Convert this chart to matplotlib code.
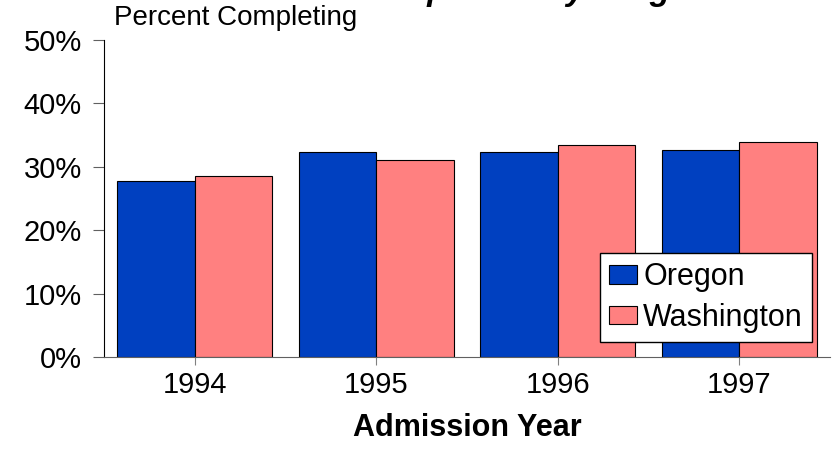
import numpy as np
import matplotlib.pyplot as plt

plt.rcParams['font.family'] = ['Liberation Sans', 'DejaVu Sans']

years = ['1994', '1995', '1996', '1997']
oregon = [27.8, 32.4, 32.3, 32.6]
washington = [28.5, 31.0, 33.4, 33.9]

fig = plt.figure(figsize=(8.33, 4.61), dpi=100)
ax = fig.add_axes([104 / 833, 1 - 357 / 461, (830 - 104) / 833, (357 - 40) / 461])

x = np.arange(len(years))
w = 0.427
ax.bar(x - w / 2, oregon, w, color='#0040C0', edgecolor='black', linewidth=0.8, label='Oregon')
ax.bar(x + w / 2, washington, w, color='#FF8080', edgecolor='black', linewidth=0.8, label='Washington')

ax.set_xlim(-0.5, 3.5)
ax.set_ylim(0, 50)
ax.set_yticks(range(0, 51, 10))
ax.set_yticklabels([f'{v}%' for v in range(0, 51, 10)], fontsize=21)
ax.set_xticks(x)
ax.set_xticklabels(years, fontsize=21)
ax.tick_params(axis='x', length=6, width=0.8, color='#808080', pad=4)
ax.tick_params(axis='y', length=8, width=0.8, color='#606060', pad=8, direction='out')
for s in ['top', 'right']:
    ax.spines[s].set_visible(False)
ax.spines['left'].set_linewidth(0.8)
ax.spines['bottom'].set_linewidth(0.8)
ax.spines['bottom'].set_color('#606060')

ax.set_xlabel('Admission Year', fontsize=22, fontweight='bold', labelpad=10)

fig.text(114 / 833, 1 - 18 / 461, 'Percent Completing', fontsize=20, ha='left', va='center')
fig.text(457 / 833, 1.0, 'Treatment Completion by Program', fontsize=24,
         fontweight='bold', fontstyle='italic', ha='center', va='baseline')

leg = ax.legend(loc='lower right', bbox_to_anchor=((812 - 104) / 726, (357 - 342) / 317),
                fontsize=22, frameon=True, fancybox=False, framealpha=1,
                borderpad=0.3, handlelength=0.9, handleheight=0.55, handletextpad=0.2,
                labelspacing=0.35, borderaxespad=0)
leg.get_frame().set_edgecolor('black')
leg.get_frame().set_linewidth(1.0)

fig.savefig('out.png', dpi=100)
